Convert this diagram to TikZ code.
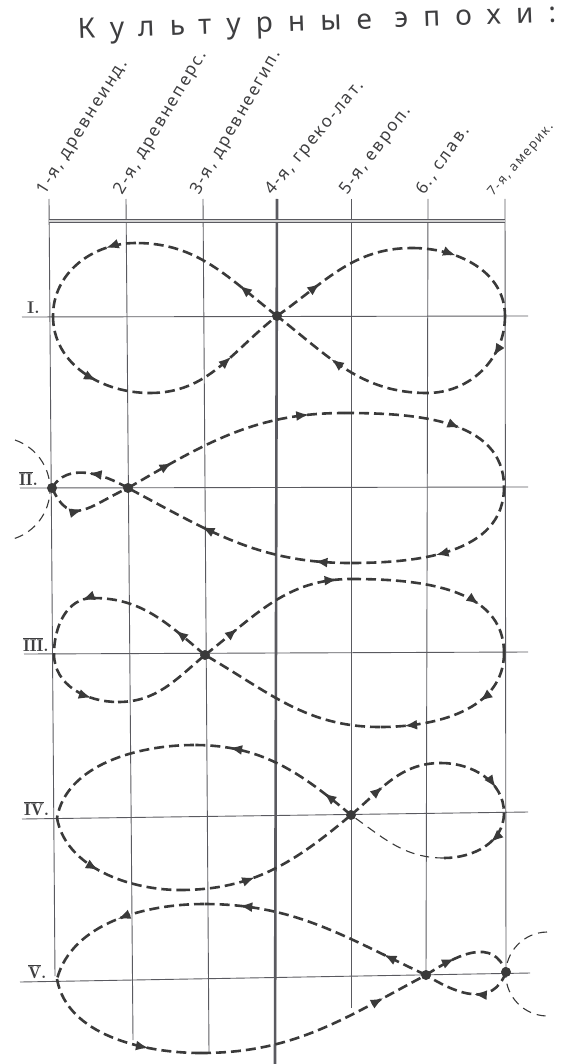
\documentclass[tikz,border=0pt]{standalone}
\usepackage{fontspec}
\usetikzlibrary{arrows.meta,decorations.markings}
\newfontfamily\handfont[LetterSpace=12]{Noto Sans}
\newfontfamily\titlefont[LetterSpace=54]{Noto Sans}
\definecolor{pencil}{RGB}{62,62,64}
\definecolor{gridgray}{RGB}{90,90,96}
\definecolor{inkgray}{RGB}{58,58,58}

\begin{document}
\begin{tikzpicture}[x=1pt,y=1pt,
    gridline/.style={draw=gridgray,line width=0.9pt},
    flow/.style={draw,color=inkgray,line width=2.6pt,dash pattern=on 10pt off 5pt},
    thinflow/.style={draw,color=inkgray,line width=1.1pt,dash pattern=on 9pt off 6pt},
    tipat/.style={postaction={decorate,decoration={markings,mark=at position #1 with {\arrow{Latex[length=13pt,width=10pt]}}}}},
    knot/.style={circle,fill=inkgray,inner sep=0pt,minimum size=10pt},
    epoch/.style={font=\handfont\fontsize{17}{17}\selectfont,text=pencil,anchor=base west,inner sep=0pt},
    rowlabel/.style={font=\bfseries\fontsize{17}{17}\selectfont,text=pencil,anchor=base west,inner sep=0pt}]
                \useasboundingbox (0,0) rectangle (562,-1064);

                \node[font=\titlefont\fontsize{28}{28}\selectfont,text=pencil,anchor=base west,inner sep=0pt,rotate=2] (title) at (78,-39) {Культурные эпохи:};

                \coordinate (t1) at (49,-199);  \coordinate (b1) at (55,-976);
                \coordinate (t2) at (126,-199); \coordinate (b2) at (133,-1040);
                \coordinate (t3) at (203,-199); \coordinate (b3) at (209,-1053);
                \coordinate (t4) at (277,-199); \coordinate (b4) at (275,-1064);
                \coordinate (t5) at (351,-199); \coordinate (b5) at (351,-1008);
                \coordinate (t6) at (428,-199); \coordinate (b6) at (426,-975);
                \coordinate (t7) at (505,-199); \coordinate (b7) at (506,-972);

                \draw[gridline] (t1) -- (b1);
                \draw[gridline] (t2) -- (b2);
                \draw[gridline] (t3) -- (b3);
                \draw[gridline,line width=2.6pt] (t4) -- (b4);
                \draw[gridline] (t5) -- (b5);
                \draw[gridline] (t6) -- (b6);
                \draw[gridline] (t7) -- (b7);

                \coordinate (barw) at (49,-221); \coordinate (bare) at (505,-221);
                \draw[draw=gridgray,line width=1.3pt,double=gray!35,double distance=1.4pt] (barw) -- (bare);

                \node[epoch,rotate=58] (e1) at (45,-196) {1-я, древнеинд.};
                \node[epoch,rotate=59] (e2) at (122,-196) {2-я, древнеперс.};
                \node[epoch,rotate=60] (e3) at (199,-196) {3-я, древнеегип.};
                \node[epoch,rotate=50] (e4) at (272,-196) {4-я, греко-лат.};
                \node[epoch,rotate=53] (e5) at (347,-196) {5-я, европ.};
                \node[epoch,rotate=55] (e6) at (424,-196) {6., слав.};
                \node[epoch,rotate=49,font=\handfont\fontsize{13}{13}\selectfont] (e7) at (493,-197) {7-я, америк.};

                \coordinate (r1w) at (22,-317); \coordinate (r1e) at (528,-316);
                \coordinate (r2w) at (20,-488); \coordinate (r2e) at (528,-487);
                \coordinate (r3w) at (24,-654); \coordinate (r3e) at (528,-652);
                \coordinate (r4w) at (22,-819); \coordinate (r4e) at (528,-812);
                \coordinate (r5w) at (20,-982); \coordinate (r5e) at (530,-973);
                \draw[gridline] (r1w) -- (r1e);
                \draw[gridline] (r2w) -- (r2e);
                \draw[gridline] (r3w) -- (r3e);
                \draw[gridline] (r4w) -- (r4e);
                \draw[gridline] (r5w) -- (r5e);

                \node[rowlabel] (n1) at (27,-313) {I.};
                \node[rowlabel] (n2) at (19,-485) {$\overline{\mathbf{II}}$.};
                \node[rowlabel] (n3) at (23,-651) {$\overline{\mathbf{III}}$.};
                \node[rowlabel] (n4) at (24,-815) {$\overline{\mathbf{IV}}$.};
                \node[rowlabel] (n5) at (28,-978) {$\overline{\mathbf{V}}$.};

                \coordinate (c1) at (277,-316);
                \coordinate (p1tl) at (136,-243); \coordinate (p1l) at (53,-316); \coordinate (p1bl) at (150,-393);
                \coordinate (p1tr) at (412,-248); \coordinate (p1r) at (505,-316); \coordinate (p1br) at (427,-393);
                \draw[flow,tipat=0.3] (c1) to[out=142,in=0] (p1tl);
                \draw[flow,tipat=0.25] (p1tl) to[out=180,in=90] (p1l);
                \draw[flow,tipat=0.6] (p1l) to[out=-90,in=180] (p1bl);
                \draw[flow,tipat=0.6] (p1bl) to[out=0,in=218] (c1);
                \draw[flow,tipat=0.35] (c1) to[out=35,in=180] (p1tr);
                \draw[flow,tipat=0.35] (p1tr) to[out=0,in=90] (p1r);
                \draw[flow,tipat=0.35] (p1r) to[out=-90,in=0] (p1br);
                \draw[flow,tipat=0.6] (p1br) to[out=180,in=-38] (c1);

                \coordinate (c2a) at (52,-488); \coordinate (c2b) at (128,-488);
                \coordinate (p2t) at (344,-413); \coordinate (p2r) at (504,-487); \coordinate (p2b) at (350,-563);
                \draw[flow,tipat=0.5] (c2b) to[out=150,in=60] (c2a);
                \draw[flow,tipat=0.45] (c2a) to[out=-65,in=205,looseness=1.5] (c2b);
                \draw[flow,tipat=0.22,tipat=0.85] (c2b) to[out=30,in=180] (p2t);
                \draw[flow,tipat=0.6] (p2t) to[out=0,in=90] (p2r);
                \draw[flow,tipat=0.55] (p2r) to[out=-90,in=0] (p2b);
                \draw[flow,tipat=0.15,tipat=0.65] (p2b) to[out=180,in=-28] (c2b);
                \draw[thinflow] (15,-440) arc[start angle=71,end angle=-74,radius=52];

                \coordinate (c3) at (205,-655);
                \coordinate (p3tl) at (93,-598); \coordinate (p3l) at (54,-654); \coordinate (p3bl) at (118,-702);
                \coordinate (p3tr) at (351,-579); \coordinate (p3r) at (504,-653); \coordinate (p3br) at (380,-727);
                \draw[flow,tipat=0.3] (c3) to[out=140,in=0] (p3tl);
                \draw[flow,tipat=0.15] (p3tl) to[out=180,in=90] (p3l);
                \draw[flow,tipat=0.7] (p3l) to[out=-90,in=180] (p3bl);
                \draw[flow] (p3bl) to[out=0,in=220] (c3);
                \draw[flow,tipat=0.25,tipat=0.92] (c3) to[out=38,in=180] (p3tr);
                \draw[flow,tipat=0.7] (p3tr) to[out=0,in=90] (p3r);
                \draw[flow,tipat=0.35,tipat=0.85] (p3r) to[out=-90,in=0] (p3br);
                \draw[flow] (p3br) to[out=180,in=-30] (c3);

                \coordinate (c4) at (351,-815);
                \coordinate (p4tl) at (194,-745); \coordinate (p4l) at (57,-818); \coordinate (p4bl) at (180,-890);
                \coordinate (p4tr) at (441,-763); \coordinate (p4r) at (504,-813); \coordinate (p4br) at (444,-858);
                \draw[flow,tipat=0.2,tipat=0.8] (c4) to[out=140,in=0] (p4tl);
                \draw[flow] (p4tl) to[out=180,in=80,looseness=0.9] (p4l);
                \draw[flow,tipat=0.45] (p4l) to[out=-80,in=180,looseness=0.9] (p4bl);
                \draw[flow,tipat=0.4] (p4bl) to[out=0,in=220] (c4);
                \draw[flow,tipat=0.4] (c4) to[out=40,in=180] (p4tr);
                \draw[flow,tipat=0.7] (p4tr) to[out=0,in=90] (p4r);
                \draw[flow,tipat=0.4] (p4r) to[out=-90,in=0] (p4br);
                \draw[thinflow] (p4br) to[out=180,in=-35] (c4);

                \coordinate (c5) at (426,-975); \coordinate (c5b) at (506,-972);
                \coordinate (p5tl) at (204,-904); \coordinate (p5l) at (57,-979); \coordinate (p5bl) at (201,-1053);
                \draw[flow,tipat=0.2,tipat=0.85] (c5) to[out=155,in=0] (p5tl);
                \draw[flow,tipat=0.5] (p5tl) to[out=180,in=75,looseness=0.9] (p5l);
                \draw[flow,tipat=0.7] (p5l) to[out=-80,in=180,looseness=0.9] (p5bl);
                \draw[flow,tipat=0.8] (p5bl) to[out=0,in=208] (c5);
                \draw[flow,tipat=0.35] (c5) to[out=33,in=110,looseness=1.2] (c5b);
                \draw[flow,tipat=0.45] (c5b) to[out=-110,in=-32,looseness=1.2] (c5);
                \draw[thinflow] (547,-932) arc[start angle=91,end angle=268,radius=42];

                \node[knot] (k1) at (c1) {};
                \node[knot] (k2a) at (c2a) {};
                \node[knot] (k2b) at (c2b) {};
                \node[knot] (k3) at (c3) {};
                \node[knot] (k4) at (c4) {};
                \node[knot] (k5) at (c5) {};
                \node[knot] (k5b) at (c5b) {};
\end{tikzpicture}
\end{document}
